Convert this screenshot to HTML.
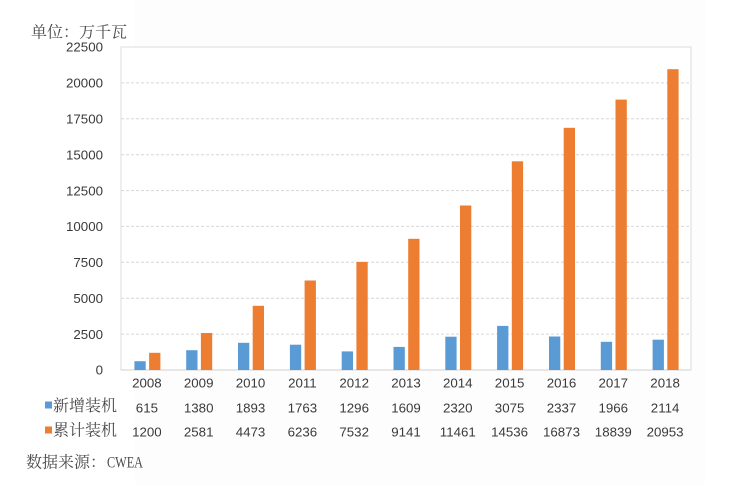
<!DOCTYPE html>
<html><head><meta charset="utf-8"><style>
html,body{margin:0;padding:0;background:#fff;}
svg{display:block;}
.n{font-family:"Liberation Sans","Noto Sans CJK SC",sans-serif;font-size:13.3px;fill:#3a3a3a;}
.c{font-family:"Liberation Serif","Noto Serif CJK SC",serif;font-size:16px;fill:#4a4a4a;}
</style></head><body>
<svg width="731" height="485" viewBox="0 0 731 485" xmlns="http://www.w3.org/2000/svg">
<rect x="0" y="0" width="731" height="485" fill="#fff"/>
<rect x="135" y="0" width="570" height="485" fill="#fdfdfd"/>
<rect x="121" y="47" width="570" height="323" fill="#fff" stroke="#dcdcdc" stroke-width="1"/>
<g stroke="#d6d6d6" stroke-width="1" stroke-dasharray="3,2">
<line x1="121" x2="691" y1="334.1" y2="334.1"/>
<line x1="121" x2="691" y1="298.2" y2="298.2"/>
<line x1="121" x2="691" y1="262.3" y2="262.3"/>
<line x1="121" x2="691" y1="226.4" y2="226.4"/>
<line x1="121" x2="691" y1="190.6" y2="190.6"/>
<line x1="121" x2="691" y1="154.7" y2="154.7"/>
<line x1="121" x2="691" y1="118.8" y2="118.8"/>
<line x1="121" x2="691" y1="82.9" y2="82.9"/>
</g>
<line x1="121" x2="691" y1="370" y2="370" stroke="#d0d0d0" stroke-width="1"/>
<g fill="#5B9BD5">
<rect x="134.4" y="361.2" width="11.3" height="8.8"/>
<rect x="186.2" y="350.2" width="11.3" height="19.8"/>
<rect x="238.0" y="342.8" width="11.3" height="27.2"/>
<rect x="289.9" y="344.7" width="11.3" height="25.3"/>
<rect x="341.7" y="351.4" width="11.3" height="18.6"/>
<rect x="393.5" y="346.9" width="11.3" height="23.1"/>
<rect x="445.3" y="336.7" width="11.3" height="33.3"/>
<rect x="497.1" y="325.9" width="11.3" height="44.1"/>
<rect x="549.0" y="336.5" width="11.3" height="33.5"/>
<rect x="600.8" y="341.8" width="11.3" height="28.2"/>
<rect x="652.6" y="339.7" width="11.3" height="30.3"/>
</g>
<g fill="#ED7D31">
<rect x="149.1" y="352.8" width="11.3" height="17.2"/>
<rect x="200.9" y="333.0" width="11.3" height="37.0"/>
<rect x="252.7" y="305.8" width="11.3" height="64.2"/>
<rect x="304.6" y="280.5" width="11.3" height="89.5"/>
<rect x="356.4" y="261.9" width="11.3" height="108.1"/>
<rect x="408.2" y="238.8" width="11.3" height="131.2"/>
<rect x="460.0" y="205.5" width="11.3" height="164.5"/>
<rect x="511.8" y="161.3" width="11.3" height="208.7"/>
<rect x="563.7" y="127.8" width="11.3" height="242.2"/>
<rect x="615.5" y="99.6" width="11.3" height="270.4"/>
<rect x="667.3" y="69.2" width="11.3" height="300.8"/>
</g>
<g class="n" text-anchor="end">
<text x="103" y="374.7">0</text>
<text x="103" y="338.8">2500</text>
<text x="103" y="302.9">5000</text>
<text x="103" y="267.0">7500</text>
<text x="103" y="231.1">10000</text>
<text x="103" y="195.3">12500</text>
<text x="103" y="159.4">15000</text>
<text x="103" y="123.5">17500</text>
<text x="103" y="87.6">20000</text>
<text x="103" y="51.7">22500</text>
</g>
<g class="n" text-anchor="middle">
<text x="146.9" y="387.5">2008</text><text x="198.7" y="387.5">2009</text><text x="250.5" y="387.5">2010</text><text x="302.4" y="387.5">2011</text><text x="354.2" y="387.5">2012</text><text x="406.0" y="387.5">2013</text><text x="457.8" y="387.5">2014</text><text x="509.6" y="387.5">2015</text><text x="561.5" y="387.5">2016</text><text x="613.3" y="387.5">2017</text><text x="665.1" y="387.5">2018</text>
<text x="146.9" y="412.5">615</text><text x="198.7" y="412.5">1380</text><text x="250.5" y="412.5">1893</text><text x="302.4" y="412.5">1763</text><text x="354.2" y="412.5">1296</text><text x="406.0" y="412.5">1609</text><text x="457.8" y="412.5">2320</text><text x="509.6" y="412.5">3075</text><text x="561.5" y="412.5">2337</text><text x="613.3" y="412.5">1966</text><text x="665.1" y="412.5">2114</text>
<text x="146.9" y="436.5">1200</text><text x="198.7" y="436.5">2581</text><text x="250.5" y="436.5">4473</text><text x="302.4" y="436.5">6236</text><text x="354.2" y="436.5">7532</text><text x="406.0" y="436.5">9141</text><text x="457.8" y="436.5">11461</text><text x="509.6" y="436.5">14536</text><text x="561.5" y="436.5">16873</text><text x="613.3" y="436.5">18839</text><text x="665.1" y="436.5">20953</text>
</g>
<rect x="45" y="401.5" width="7" height="7" fill="#5B9BD5"/>
<rect x="45" y="426.5" width="7" height="7" fill="#ED7D31"/>
<text class="c" x="53" y="411">新增装机</text>
<text class="c" x="53" y="435.5">累计装机</text>
<text class="c" x="31" y="37.5">单位：万千瓦</text>
<text class="c" x="26" y="467.5">数据来源：</text>
<text class="c" x="107" y="467.5" textLength="36" lengthAdjust="spacingAndGlyphs">CWEA</text>
</svg>
</body></html>
